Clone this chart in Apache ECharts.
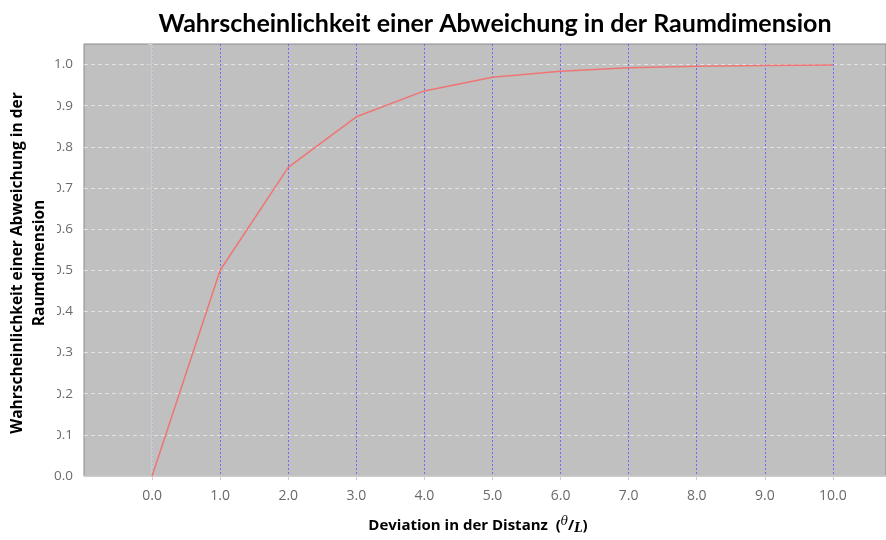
<!DOCTYPE html>
<html><head><meta charset="utf-8">
<script src="https://cdn.jsdelivr.net/npm/echarts@6/dist/echarts.min.js"></script>
<style>html,body{margin:0;padding:0;background:#fff}#c{width:886px;height:540px}</style>
</head><body><div id="c"></div>
<script>
const xValues = [0, 1, 2, 3, 4, 5, 6, 7, 8, 9, 10];
const probValues = [0, 0.5, 0.75, 0.873, 0.936, 0.969, 0.984, 0.992, 0.996, 0.998, 0.999];
const titleText = 'Wahrscheinlichkeit einer Abweichung in der Raumdimension';
const yTitleLines = ['Wahrscheinlichkeit einer Abweichung in der', 'Raumdimension'];
const xTitle = 'Deviation in der Distanz';

const chart = echarts.init(document.getElementById('c'));
chart.setOption({
  animation: false,
  title: {
    text: titleText, left: 490, textAlign: 'center', top: 6,
    textStyle: { fontFamily: 'Lato', fontWeight: 'bold', fontSize: 25, color: '#000' }
  },
  grid: {
    left: 84, top: 44, right: 0, bottom: 57,
    show: true, backgroundColor: '#c0c0c0', borderColor: '#8a8a8a', borderWidth: 1
  },
  xAxis: {
    type: 'value', min: -1, max: 10.78, interval: 1, offset: 4,
    axisLine: { show: true, lineStyle: { color: '#cfcfcf', width: 1.5 } },
    axisTick: { show: true, length: 4, lineStyle: { color: '#cfcfcf' } },
    axisLabel: {
      color: '#6a6a6a', fontSize: 14, fontFamily: 'Open Sans', margin: 9,
      showMinLabel: false, showMaxLabel: false,
      formatter: v => (v < 0 || v > 10) ? '' : v.toFixed(1)
    },
    splitLine: { show: true, showMinLine: false, showMaxLine: false,
      lineStyle: { color: '#6a6aff', type: [2, 2], width: 1 } },
    name: '{t|' + xTitle + '  (}{s|θ}{t|/}{b|L}{t|)}',
    nameLocation: 'middle', nameGap: 36,
    nameTextStyle: {
      padding: [0, 14, 0, 0],
      rich: {
        t: { fontFamily: 'Open Sans', fontWeight: 'bold', fontSize: 15, color: '#000' },
        s: { fontFamily: 'DejaVu Serif', fontStyle: 'italic', fontSize: 12, color: '#000', verticalAlign: 'top', padding: [0, 0, 7, 0] },
        b: { fontFamily: 'DejaVu Serif', fontStyle: 'italic', fontWeight: 'bold', fontSize: 12, color: '#000', verticalAlign: 'bottom', padding: [7, 0, 0, 0] }
      }
    }
  },
  yAxis: {
    type: 'value', min: 0, max: 1.05, interval: 0.1, offset: 4,
    axisLine: { show: true, lineStyle: { color: '#cfcfcf', width: 1.5 } },
    axisTick: { show: true, length: 4, lineStyle: { color: '#cfcfcf' } },
    axisLabel: {
      color: '#6a6a6a', fontSize: 13.5, fontFamily: 'Open Sans', margin: 7,
      formatter: v => v > 1.0001 ? '' : v.toFixed(1)
    },
    splitLine: { show: true, showMinLine: false, showMaxLine: false,
      lineStyle: { color: '#e2e2e2', type: [4, 3], width: 1 } }
  },
  graphic: [
    { type: 'rect', z: 100, shape: { x: 0, y: 86, width: 57, height: 368 }, style: { fill: '#fff' } },
    {
      type: 'text', z: 101, x: 29, y: 263, rotation: Math.PI / 2,
      style: {
        text: yTitleLines.join('\n'), fill: '#000', align: 'center', verticalAlign: 'middle',
        font: 'bold 15.5px "Open Sans"', lineHeight: 22
      }
    }
  ],
  series: [{
    type: 'line', data: xValues.map((x, i) => [x, probValues[i]]),
    showSymbol: false, symbol: 'none',
    lineStyle: { color: '#f07474', width: 1.5 },
    z: 5
  }]
});
</script></body></html>
